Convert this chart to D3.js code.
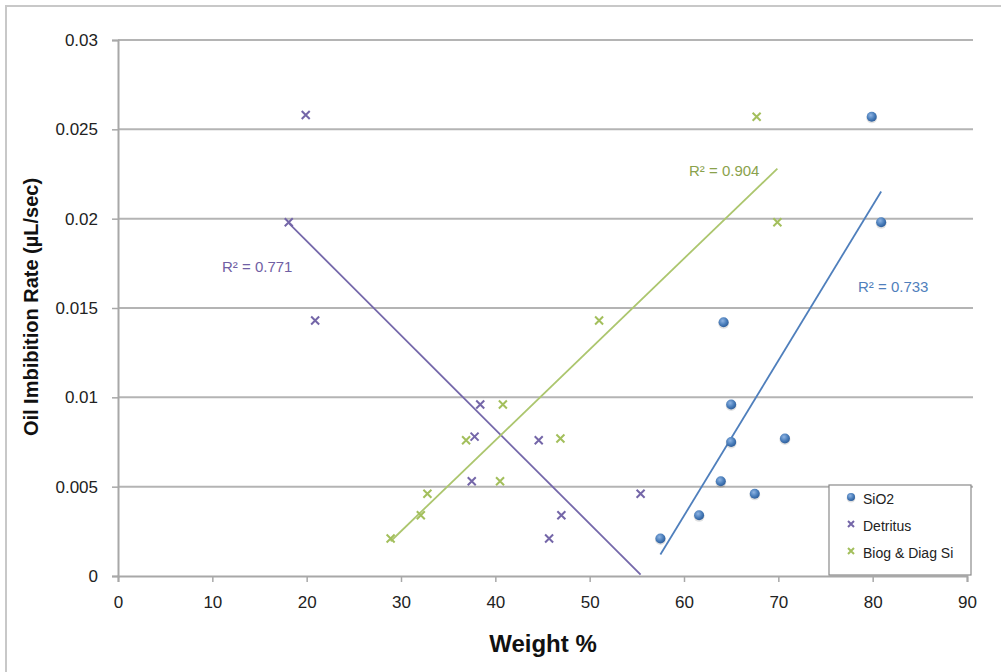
<!DOCTYPE html>
<html>
<head>
<meta charset="utf-8">
<script src="https://cdn.jsdelivr.net/npm/d3@7"></script>
<style>
  body { margin: 0; background: #fff; }
  text { font-family: "Liberation Sans", Arial, sans-serif; }
</style>
</head>
<body>
<script>
// data
var sio2X = [79.9, 80.9, 64.2, 65.0, 65.0, 70.7, 63.9, 67.5, 61.6, 57.5];
var sio2Y = [0.0257, 0.0198, 0.0142, 0.0096, 0.0075, 0.0077, 0.0053, 0.0046, 0.0034, 0.0021];

var detX = [19.9, 18.1, 20.9, 38.4, 37.8, 44.6, 37.5, 55.4, 47.0, 45.7];
var detY = [0.0258, 0.0198, 0.0143, 0.0096, 0.0078, 0.0076, 0.0053, 0.0046, 0.0034, 0.0021];

var biogX = [67.7, 69.9, 51.0, 40.8, 36.9, 46.9, 40.5, 32.8, 32.1, 28.9];
var biogY = [0.0257, 0.0198, 0.0143, 0.0096, 0.0076, 0.0077, 0.0053, 0.0046, 0.0034, 0.0021];

var seriesNames = ['SiO2', 'Detritus', 'Biog & Diag Si'];
var r2Labels = ['R² = 0.733', 'R² = 0.771', 'R² = 0.904'];
var xTicks = [0, 10, 20, 30, 40, 50, 60, 70, 80, 90];
var yTicks = [0, 0.005, 0.01, 0.015, 0.02, 0.025, 0.03];

var svgWidth = 1001;
var svgHeight = 672;

var margin = { top: 40, left: 118, right: 31, bottom: 96 };
var chartWidth = svgWidth - margin.left - margin.right;
var chartHeight = svgHeight - margin.top - margin.bottom;

var svg = d3.select('body').append('svg')
    .attr('width', svgWidth)
    .attr('height', svgHeight);

// outer frame
svg.append('rect')
    .attr('x', 6).attr('y', 6)
    .attr('width', 1020).attr('height', 700)
    .attr('fill', 'none')
    .attr('stroke', '#c8c8c8')
    .attr('stroke-width', 2);

var chart = svg.append('g')
    .attr('transform', `translate(${margin.left}, ${margin.top})`);

var x = d3.scaleLinear().domain([0, 90]).range([0, 849]);
var y = d3.scaleLinear().domain([0, 0.03]).range([chartHeight, 0]);

// horizontal gridlines
chart.selectAll('.grid')
    .data(yTicks.slice(1))
    .enter().append('line')
    .attr('x1', 0).attr('x2', chartWidth + 3)
    .attr('y1', d => y(d)).attr('y2', d => y(d))
    .attr('stroke', '#b4b4b4')
    .attr('stroke-width', 2);

// axes
var xAxis = chart.append('g')
    .attr('transform', `translate(0, ${chartHeight})`)
    .call(d3.axisBottom(x).tickValues(xTicks).tickSize(6).tickPadding(14).tickFormat(d3.format('d')));

var yAxis = chart.append('g')
    .call(d3.axisLeft(y).tickValues(yTicks).tickSize(6).tickPadding(14).tickFormat(d => d === 0 ? '0' : String(+d.toFixed(3))));

[xAxis, yAxis].forEach(a => {
    a.select('.domain').attr('stroke', '#a8a8a8').attr('stroke-width', 2);
    a.selectAll('.tick line').attr('stroke', '#a8a8a8').attr('stroke-width', 1.5);
    a.selectAll('.tick text')
        .attr('fill', '#222')
        .style('font-size', '17px')
        .style('font-family', '"Liberation Sans", Arial, sans-serif');
});
xAxis.selectAll('.tick line').attr('y1', 1);

// trendlines (least squares fit over each series)
function fit(xs, ys) {
    var mx = d3.mean(xs), my = d3.mean(ys);
    var sxy = d3.sum(xs, (v, i) => (v - mx) * (ys[i] - my));
    var sxx = d3.sum(xs, v => (v - mx) * (v - mx));
    var b = sxy / sxx;
    var a = my - b * mx;
    var ext = d3.extent(xs);
    return ext.map(v => [v, a + b * v]);
}

var colors = {
    sio2: '#4a7ebb',
    det: '#7466a8',
    biog: '#a3bf5c'
};
var lineColors = ['#4f7fbc', '#7568aa', '#acc66e'];

var series = [
    { xs: sio2X, ys: sio2Y, kind: 'circle', color: colors.sio2 },
    { xs: detX, ys: detY, kind: 'cross', color: colors.det },
    { xs: biogX, ys: biogY, kind: 'cross', color: colors.biog }
];

var line = d3.line().x(d => x(d[0])).y(d => y(d[1]));

series.forEach((s, i) => {
    chart.append('path')
        .attr('d', line(fit(s.xs, s.ys)))
        .attr('fill', 'none')
        .attr('stroke', lineColors[i])
        .attr('stroke-width', 1.8);
});

// markers
var defs = svg.append('defs');
var grad = defs.append('radialGradient').attr('id', 'ball')
    .attr('cx', '40%').attr('cy', '35%').attr('r', '65%');
grad.append('stop').attr('offset', '0%').attr('stop-color', '#8fb4e3');
grad.append('stop').attr('offset', '60%').attr('stop-color', '#4a7ebb');
grad.append('stop').attr('offset', '100%').attr('stop-color', '#2f5f9c');

function drawMarker(g, kind, color, cx, cy, size) {
    if (kind === 'circle') {
        g.append('circle')
            .attr('cx', cx).attr('cy', cy + 1).attr('r', size + 0.5)
            .attr('fill', '#000').attr('opacity', 0.12);
        g.append('circle')
            .attr('cx', cx).attr('cy', cy).attr('r', size)
            .attr('fill', 'url(#ball)');
    } else {
        var h = size - 1;
        g.append('path')
            .attr('d', `M${cx - h},${cy - h}L${cx + h},${cy + h}M${cx - h},${cy + h}L${cx + h},${cy - h}`)
            .attr('stroke', color)
            .attr('stroke-width', 2)
            .attr('fill', 'none');
    }
}

series.forEach(s => {
    var g = chart.append('g');
    s.xs.forEach((v, i) => drawMarker(g, s.kind, s.color, x(v), y(s.ys[i]), 5));
});

// R² labels
var r2Pos = [[858, 292, '#4f7fbc'], [222, 272, '#7060a4'], [689, 176, '#8aa24c']];
r2Labels.forEach((t, i) => {
    svg.append('text')
        .attr('x', r2Pos[i][0])
        .attr('y', r2Pos[i][1])
        .attr('fill', r2Pos[i][2])
        .style('font-size', '15px')
        .text(t);
});

// legend
var legend = svg.append('g').attr('transform', 'translate(829, 485)');
legend.append('rect')
    .attr('width', 142).attr('height', 90)
    .attr('fill', '#fff')
    .attr('stroke', '#8a8a8a')
    .attr('stroke-width', 1.2);
var legendMarks = [['circle', colors.sio2], ['cross', colors.det], ['cross', colors.biog]];
seriesNames.forEach((n, i) => {
    var ly = 13 + i * 27;
    drawMarker(legend, legendMarks[i][0], legendMarks[i][1], 22, ly - 1, 4);
    legend.append('text')
        .attr('x', 34).attr('y', ly + 6)
        .attr('fill', '#222')
        .style('font-size', '14px')
        .text(n);
});

// axis titles
svg.append('text')
    .attr('x', 543).attr('y', 652)
    .attr('text-anchor', 'middle')
    .style('font-size', '24px')
    .style('font-weight', 'bold')
    .attr('fill', '#111')
    .text('Weight %');

svg.append('text')
    .attr('transform', 'translate(38, 307) rotate(-90)')
    .attr('text-anchor', 'middle')
    .style('font-size', '20px')
    .style('font-weight', 'bold')
    .attr('fill', '#111')
    .text('Oil Imbibition Rate (µL/sec)');
</script>
</body>
</html>
